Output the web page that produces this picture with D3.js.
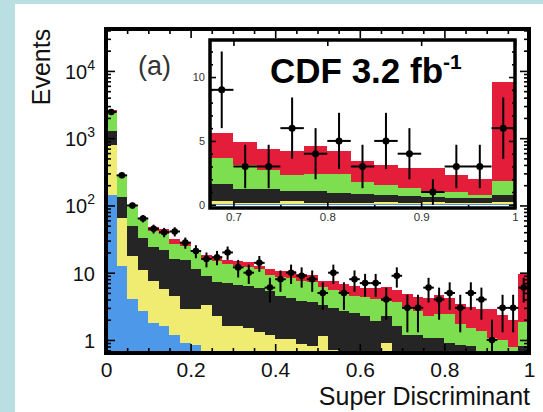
<!DOCTYPE html>
<html>
<head>
<meta charset="utf-8">
<script src="https://d3js.org/d3.v7.min.js"></script>
<style>
  body { margin: 0; background: #fff; }
  svg { display: block; font-family: "Liberation Sans", Arial, Helvetica, sans-serif; }
  .tick line { stroke: #000; stroke-width: 1.6; }
</style>
</head>
<body>
<svg id="chart" width="543" height="412"></svg>
<script>
// 40 bins of width 0.025 on [0, 1]
const nBins = 40, binWidth = 0.025;

// background components per bin (stacked bottom to top)
const blueBkg   = [144, 12.7, 4.0, 2.7, 1.8, 1.6, 1.2, 0.9, 0.85, 0.3, 0.25, 0.2, 0.2, 0.2, 0.2, 0.2, 0.15, 0.15, 0.15, 0.15,
                   0.15, 0.15, 0.1, 0.1, 0.1, 0.1, 0.1, 0.08, 0.08, 0.08, 0.05, 0.1, 0.1, 0.1, 0.08, 0.1, 0.05, 0.1, 0.1, 0.05];
const yellowBkg = [660, 52.3, 14, 8.4, 5.8, 4.2, 3.3, 2.0, 2.05, 3.0, 2.0, 1.4, 1.4, 1.33, 1.1, 1.0, 0.9, 0.87, 0.71, 0.66,
                   1.0, 0.57, 0.45, 0.4, 0.35, 0.3, 0.8, 0.22, 0.07, 0.07, 0.25, 0.05, 0.05, 0.05, 0.17, 0.05, 0.2, 0.05, 0.05, 0.2];
const blackBkg  = [456, 68, 32, 21.5, 16.4, 16, 11.5, 12.7, 8.4, 5.5, 5.0, 5.4, 5.0, 4.9, 4.6, 4.2, 3.45, 3.2, 2.9, 2.8,
                   2.15, 2.3, 2.15, 2.0, 1.85, 1.5, 1.4, 1.3, 1.05, 1.05, 0.77, 0.92, 0.75, 0.7, 0.55, 0.52, 0.35, 0.4, 0.4, 0.55];
const greenBkg  = [1210, 142, 49, 29.4, 18, 16.2, 10.8, 9.1, 8.7, 7.2, 7.8, 6.5, 6.1, 5.6, 5.5, 3.9, 4.2, 4.1, 3.8, 3.6,
                   2.9, 2.5, 2.4, 2.0, 2.0, 2.15, 1.5, 2.1, 1.9, 1.5, 1.23, 1.33, 1.5, 0.9, 0.73, 0.68, 0.47, 0.45, 0.23, 1.03];
const redBkg    = [160, 13, 4, 4, 5.5, 7, 5, 4.3, 2, 2.4, 2, 2, 2, 2.3, 1.3, 2.1, 2.0, 2.2, 2.0, 2.1,
                   1.4, 2.1, 1.7, 1.9, 1.6, 1.95, 2.4, 1.9, 1.8, 1.7, 1.9, 2.2, 1.8, 1.65, 1.57, 1.55, 1.83, 1.34, 1.23, 7.8];

// observed events and their errors
const dataCounts = [2450, 280, 100, 64, 45, 40, 41, 28, 21, 16, 17, 20, 12, 10, 14, 6, 8, 10, 9, 8,
                    5, 10, 5, 8, 7, 7, 4, 9, 3, 3, 6, 4, 5, 3, 5, 4, 1, 3, 3, 6];
const dataErrors = [49, 17, 10, 8, 6.7, 6.3, 6.4, 5.3, 4.6, 4, 4.1, 4.5, 3.5, 3.2, 3.7, 2.4, 2.8, 3.2, 3, 2.8,
                    2.2, 3.2, 2.2, 2.8, 2.6, 2.6, 2, 3, 1.7, 1.7, 2.4, 2, 2.2, 1.7, 2.2, 2, 1, 1.7, 1.7, 2.4];

const xTickValues = [0, 0.2, 0.4, 0.6, 0.8, 1];
const xTickLabels = ["0", "0.2", "0.4", "0.6", "0.8", "1"];
const yTickValues = [1, 10, 100, 1000, 10000];

const insetFirstBin = 27;
const insetXTicks = [0.7, 0.8, 0.9, 1];
const insetXLabels = ["0.7", "0.8", "0.9", "1"];
const insetYTicks = [0, 5, 10];

const layerKeys = ["blue", "yellow", "black", "green", "red"];
const layerColors = {blue: "#4e98ea", yellow: "#f0ec72", black: "#252525", green: "#7ddf4f", red: "#e41e3a"};

const rows = d3.range(nBins).map(i => ({
  i: i, x0: i * binWidth,
  blue: blueBkg[i], yellow: yellowBkg[i], black: blackBkg[i], green: greenBkg[i], red: redBkg[i],
  n: dataCounts[i], err: dataErrors[i]
}));

const svg = d3.select("#chart"),
    width = +svg.attr("width"),
    height = +svg.attr("height");

// page background
svg.append("rect").attr("width", width).attr("height", height).attr("fill", "#b9dfe2");
svg.append("rect").attr("x", 15).attr("y", 4).attr("width", width - 15).attr("height", height - 4).attr("fill", "#fff");

// main plot scales
const x = d3.scaleLinear().domain([0, 1]).range([106, 529]);
const yMin = 0.64;
const y = d3.scaleLog().domain([yMin, 42000]).range([353, 29]).clamp(true);

const stacked = d3.stack().keys(layerKeys)(rows);

svg.append("clipPath").attr("id", "mainClip")
  .append("rect").attr("x", 106).attr("y", 29).attr("width", 423).attr("height", 324);

const mainG = svg.append("g").attr("clip-path", "url(#mainClip)");

mainG.selectAll("g.layer")
  .data(stacked)
  .join("g")
  .attr("class", "layer")
  .attr("fill", d => layerColors[d.key])
  .attr("shape-rendering", "crispEdges")
  .selectAll("rect")
  .data(d => d)
  .join("rect")
  .attr("x", d => x(d.data.x0))
  .attr("width", d => x(d.data.x0 + binWidth) - x(d.data.x0))
  .attr("y", d => y(Math.max(d[1], yMin)))
  .attr("height", d => y(Math.max(d[0], yMin)) - y(Math.max(d[1], yMin)));

// data points
const pts = mainG.selectAll("g.pt").data(rows).join("g").attr("class", "pt");
pts.append("line")
  .attr("x1", d => x(d.x0 + binWidth / 2)).attr("x2", d => x(d.x0 + binWidth / 2))
  .attr("y1", d => y(Math.max(d.n - d.err, yMin))).attr("y2", d => y(d.n + d.err))
  .attr("stroke", "#000").attr("stroke-width", 2);
pts.append("line")
  .attr("x1", d => x(d.x0)).attr("x2", d => x(d.x0 + binWidth))
  .attr("y1", d => y(d.n)).attr("y2", d => y(d.n))
  .attr("stroke", "#000").attr("stroke-width", 2);
pts.append("circle")
  .attr("cx", d => x(d.x0 + binWidth / 2)).attr("cy", d => y(d.n)).attr("r", 3.3).attr("fill", "#000");

// axes of the main plot
const minorLog = y.ticks().filter(v => yTickValues.indexOf(v) < 0 && Math.abs(Math.log10(v) % 1) > 1e-6);
const minorX = d3.range(0.05, 1, 0.05).filter(v => Math.abs(v * 5 - Math.round(v * 5)) > 1e-6);

function powLabel(sel) {
  sel.selectAll(".tick text").each(function (d) {
    const t = d3.select(this).text(null);
    if (d < 100) { t.text(d); return; }
    t.append("tspan").text("10");
    t.append("tspan").attr("dy", -9).attr("font-size", 14).text(Math.round(Math.log10(d)));
  });
}

const leftAxis = svg.append("g").attr("transform", "translate(106,0)")
  .call(d3.axisLeft(y).tickValues(yTickValues).tickSizeInner(-9).tickSizeOuter(0).tickPadding(11));
leftAxis.selectAll(".tick text").attr("font-size", 20).attr("fill", "#111").attr("dy", "0.37em");
leftAxis.call(powLabel);
svg.append("g").attr("transform", "translate(106,0)")
  .call(d3.axisLeft(y).tickValues(minorLog).tickSizeInner(-5).tickSizeOuter(0).tickFormat(""));
svg.append("g").attr("transform", "translate(529,0)")
  .call(d3.axisRight(y).tickValues(yTickValues).tickSizeInner(-9).tickSizeOuter(0).tickFormat(""));
svg.append("g").attr("transform", "translate(529,0)")
  .call(d3.axisRight(y).tickValues(minorLog).tickSizeInner(-5).tickSizeOuter(0).tickFormat(""));

const bottomAxis = svg.append("g").attr("transform", "translate(0,353)")
  .call(d3.axisBottom(x).tickValues(xTickValues).tickSizeInner(-9).tickSizeOuter(0).tickPadding(9)
    .tickFormat((d, i) => xTickLabels[i]));
bottomAxis.selectAll(".tick text").attr("font-size", 21).attr("fill", "#111");
svg.append("g").attr("transform", "translate(0,353)")
  .call(d3.axisBottom(x).tickValues(minorX).tickSizeInner(-5).tickSizeOuter(0).tickFormat(""));
svg.append("g").attr("transform", "translate(0,29)")
  .call(d3.axisTop(x).tickValues(xTickValues).tickSizeInner(-9).tickSizeOuter(0).tickFormat(""));
svg.append("g").attr("transform", "translate(0,29)")
  .call(d3.axisTop(x).tickValues(minorX).tickSizeInner(-5).tickSizeOuter(0).tickFormat(""));

svg.selectAll(".domain").remove();

// main frame
svg.append("rect").attr("x", 106).attr("y", 29).attr("width", 423).attr("height", 324)
  .attr("fill", "none").attr("stroke", "#000").attr("stroke-width", 4);

// ---------- inset ----------
const ix = d3.scaleLinear().domain([0.675, 1]).range([210, 515]);
const iy = d3.scaleLinear().domain([-0.25, 12.9]).range([208, 40]);
const insetRows = rows.filter(d => d.i >= insetFirstBin);
const insetStack = d3.stack().keys(layerKeys)(insetRows);

const inset = svg.append("g");
inset.append("rect").attr("x", 210).attr("y", 40).attr("width", 305).attr("height", 168).attr("fill", "#fff");

inset.selectAll("g.layer")
  .data(insetStack)
  .join("g")
  .attr("class", "layer")
  .attr("fill", d => layerColors[d.key])
  .attr("shape-rendering", "crispEdges")
  .selectAll("rect")
  .data(d => d)
  .join("rect")
  .attr("x", d => ix(d.data.x0))
  .attr("width", d => ix(d.data.x0 + binWidth) - ix(d.data.x0))
  .attr("y", d => iy(d[1]))
  .attr("height", d => iy(d[0]) - iy(d[1]));

const ipts = inset.selectAll("g.pt").data(insetRows).join("g").attr("class", "pt");
ipts.append("line")
  .attr("x1", d => ix(d.x0 + binWidth / 2)).attr("x2", d => ix(d.x0 + binWidth / 2))
  .attr("y1", d => iy(Math.max(d.n - d.err, 0))).attr("y2", d => iy(d.n + d.err))
  .attr("stroke", "#000").attr("stroke-width", 2);
ipts.append("line")
  .attr("x1", d => ix(d.x0)).attr("x2", d => ix(d.x0 + binWidth))
  .attr("y1", d => iy(d.n)).attr("y2", d => iy(d.n))
  .attr("stroke", "#000").attr("stroke-width", 2);
ipts.append("circle")
  .attr("cx", d => ix(d.x0 + binWidth / 2)).attr("cy", d => iy(d.n)).attr("r", 3.5).attr("fill", "#000");

const insetMinorY = d3.range(1, 13).filter(v => v % 5 !== 0);
const insetMinorX = [0.75, 0.85, 0.95];

const iLeft = inset.append("g").attr("transform", "translate(210,0)")
  .call(d3.axisLeft(iy).tickValues(insetYTicks).tickSizeInner(-6).tickSizeOuter(0).tickPadding(5));
iLeft.selectAll(".tick text").attr("font-size", 11).attr("fill", "#333");
inset.append("g").attr("transform", "translate(210,0)")
  .call(d3.axisLeft(iy).tickValues(insetMinorY).tickSizeInner(-3).tickSizeOuter(0).tickFormat(""));
inset.append("g").attr("transform", "translate(515,0)")
  .call(d3.axisRight(iy).tickValues(insetYTicks).tickSizeInner(-6).tickSizeOuter(0).tickFormat(""));
inset.append("g").attr("transform", "translate(515,0)")
  .call(d3.axisRight(iy).tickValues(insetMinorY).tickSizeInner(-3).tickSizeOuter(0).tickFormat(""));
const iBottom = inset.append("g").attr("transform", "translate(0,208)")
  .call(d3.axisBottom(ix).tickValues(insetXTicks).tickSizeInner(-6).tickSizeOuter(0).tickPadding(5)
    .tickFormat((d, i) => insetXLabels[i]));
iBottom.selectAll(".tick text").attr("font-size", 11.5).attr("fill", "#333");
inset.append("g").attr("transform", "translate(0,208)")
  .call(d3.axisBottom(ix).tickValues(insetMinorX).tickSizeInner(-3).tickSizeOuter(0).tickFormat(""));
inset.append("g").attr("transform", "translate(0,40)")
  .call(d3.axisTop(ix).tickValues(insetXTicks).tickSizeInner(-6).tickSizeOuter(0).tickFormat(""));
inset.selectAll(".tick line").attr("stroke-width", 1.2);
inset.selectAll(".domain").remove();

inset.append("rect").attr("x", 210).attr("y", 40).attr("width", 305).attr("height", 168)
  .attr("fill", "none").attr("stroke", "#000").attr("stroke-width", 3.5);

// ---------- labels ----------
svg.append("text")
  .attr("transform", "translate(50,67) rotate(-90)")
  .attr("text-anchor", "middle").attr("font-size", 25).attr("fill", "#111")
  .text("Events");

svg.append("text")
  .attr("x", 530).attr("y", 405).attr("text-anchor", "end")
  .attr("font-size", 25).attr("fill", "#111")
  .text("Super Discriminant");

svg.append("text")
  .attr("x", 138).attr("y", 75).attr("font-size", 27).attr("fill", "#333")
  .text("(a)");

const cdf = svg.append("text")
  .attr("x", 270).attr("y", 83).attr("font-size", 35).attr("font-weight", "bold").attr("fill", "#000");
cdf.append("tspan").text("CDF 3.2 fb");
cdf.append("tspan").attr("dy", -14).attr("font-size", 21).text("-1");
</script>
</body>
</html>
